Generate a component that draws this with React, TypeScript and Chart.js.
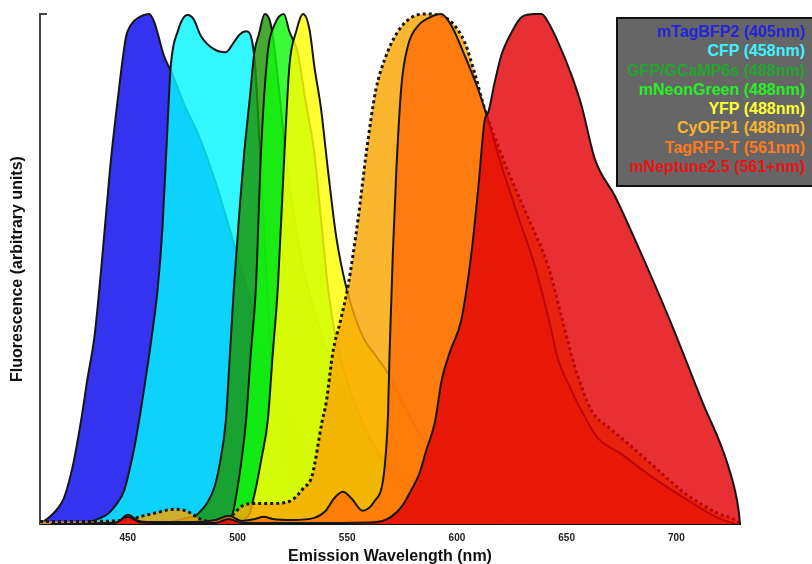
import React, { useEffect, useRef } from "react";
import { Chart, registerables } from "chart.js";

Chart.register(...registerables);

// ---------- data ----------
const seriesNames = [
  "mTagBFP2 (405nm)",
  "CFP (458nm)",
  "GFP/GCaMP6s (488nm)",
  "mNeonGreen (488nm)",
  "YFP (488nm)",
  "CyOFP1 (488nm)",
  "TagRFP-T (561nm)",
  "mNeptune2.5 (561+nm)",
];

const bfpWl = [410, 412, 415, 418, 421, 425, 428.5, 431.5, 435, 438, 442, 445.5, 449, 450, 453, 456.7, 459.7, 462, 463.5, 466.5, 470, 476, 482, 490, 497, 505, 512, 520, 530, 540, 550, 565, 580, 600];
const bfpVal = [0, 0.006, 0.016, 0.03, 0.052, 0.115, 0.197, 0.281, 0.374, 0.505, 0.7, 0.835, 0.951, 0.967, 0.987, 0.997, 1.0, 0.985, 0.964, 0.918, 0.885, 0.82, 0.765, 0.67, 0.57, 0.45, 0.35, 0.25, 0.16, 0.1, 0.06, 0.03, 0.015, 0];

const cfpWl = [430, 436, 441, 445, 448.3, 451, 453, 456, 458.5, 461, 463.6, 465.8, 468, 469.6, 472.7, 477.2, 480, 483.3, 489.3, 494.7, 498.4, 501, 504, 506.2, 508, 510, 513, 516, 520, 525, 530, 540, 550, 565];
const cfpVal = [0, 0.009, 0.02, 0.04, 0.065, 0.11, 0.15, 0.225, 0.295, 0.37, 0.46, 0.58, 0.77, 0.898, 0.965, 0.998, 0.99, 0.957, 0.931, 0.925, 0.945, 0.96, 0.966, 0.955, 0.9, 0.75, 0.5, 0.3, 0.16, 0.08, 0.04, 0.015, 0.005, 0];

const gfpWl = [465, 470, 475, 480, 482, 486, 489.4, 492, 494.7, 496.5, 498.4, 501, 503.1, 505.5, 507.7, 509.8, 512.4, 514.5, 516, 519, 522, 526, 530, 535, 540, 550, 560, 570, 585, 600, 620];
const gfpVal = [0, 0.004, 0.01, 0.015, 0.02, 0.04, 0.071, 0.12, 0.203, 0.33, 0.465, 0.62, 0.73, 0.83, 0.925, 0.961, 1.0, 0.99, 0.96, 0.85, 0.72, 0.6, 0.5, 0.42, 0.35, 0.25, 0.17, 0.11, 0.06, 0.03, 0];

const neonWl = [490, 494, 496, 497.8, 500, 502, 503.9, 506, 508.4, 510.7, 513.8, 517, 521.1, 523.7, 527.4, 531, 535, 538, 541.2, 545, 550, 560, 570, 580, 600, 620];
const neonVal = [0, 0.005, 0.01, 0.02, 0.071, 0.13, 0.203, 0.33, 0.465, 0.728, 0.925, 0.98, 1.0, 0.965, 0.925, 0.83, 0.728, 0.6, 0.465, 0.36, 0.28, 0.17, 0.1, 0.06, 0.02, 0];

const yfpWl = [500, 503, 505.4, 508.4, 511, 513.8, 516, 518.4, 521.4, 523.7, 526.7, 529.9, 532.8, 535, 538.1, 541.2, 545, 549.5, 554, 558, 563, 568.6, 576, 584, 595, 610, 630];
const yfpVal = [0, 0.008, 0.02, 0.071, 0.13, 0.203, 0.33, 0.465, 0.728, 0.9, 0.965, 1.0, 0.97, 0.898, 0.813, 0.695, 0.563, 0.465, 0.4, 0.36, 0.33, 0.295, 0.23, 0.17, 0.11, 0.05, 0];

const cyofpWl = [410, 430, 450, 457, 463, 471, 477, 482, 487, 492, 497, 502, 506, 515, 524, 530, 534, 538.5, 540.5, 543.4, 547, 550.3, 554.9, 558.7, 563, 567, 573, 580, 586.5, 592, 597.5, 603.6, 608, 612.7, 618.8, 623.4, 632.5, 641.6, 647.7, 653.8, 661.4, 669, 678.2, 690.3, 704, 719.3, 726.8, 729];
const cyofpVal = [0.005, 0.005, 0.008, 0.016, 0.022, 0.029, 0.025, 0.012, 0.005, 0.005, 0.015, 0.035, 0.04, 0.04, 0.045, 0.07, 0.095, 0.2, 0.24, 0.335, 0.4, 0.465, 0.596, 0.728, 0.85, 0.91, 0.965, 0.995, 1.0, 0.997, 0.984, 0.944, 0.885, 0.813, 0.741, 0.69, 0.6, 0.505, 0.406, 0.308, 0.222, 0.19, 0.157, 0.111, 0.06, 0.02, 0.008, 0];

const tagrfpWl = [420, 445, 450, 455, 460, 480, 490, 496, 502, 508, 512, 516, 525, 535, 540, 544, 548, 552, 557, 562.5, 566.3, 567.8, 568.6, 569.3, 570.8, 572.4, 574.7, 577.7, 582.3, 587, 592.9, 597.5, 603.6, 609.7, 612.7, 620.3, 627.9, 635.6, 641.6, 646.2, 650.7, 657, 664, 675, 689, 704, 719, 727];
const tagrfpVal = [0, 0.003, 0.018, 0.006, 0.004, 0.004, 0.008, 0.016, 0.006, 0.01, 0.014, 0.01, 0.008, 0.012, 0.025, 0.05, 0.063, 0.05, 0.026, 0.045, 0.085, 0.15, 0.216, 0.335, 0.531, 0.695, 0.859, 0.938, 0.977, 0.992, 1.0, 0.977, 0.918, 0.852, 0.813, 0.703, 0.603, 0.505, 0.406, 0.321, 0.275, 0.22, 0.17, 0.137, 0.092, 0.05, 0.012, 0];

const neptuneWl = [415, 444, 450, 456, 470, 490, 496, 502, 530, 560, 566, 570, 575, 579, 583, 586, 590, 593, 597, 602, 606.6, 609.8, 612.7, 614.2, 617.2, 620.3, 624.9, 629.5, 635.6, 638.6, 641.6, 646.2, 652.3, 656.8, 662.9, 672, 681.2, 696.4, 711.6, 723.8, 728.4, 729];
const neptuneVal = [0, 0.002, 0.014, 0.003, 0.002, 0.002, 0.01, 0.002, 0.002, 0.003, 0.006, 0.014, 0.035, 0.065, 0.1, 0.144, 0.2, 0.281, 0.34, 0.4, 0.531, 0.662, 0.793, 0.806, 0.866, 0.92, 0.964, 0.994, 1.0, 1.0, 0.984, 0.944, 0.879, 0.82, 0.715, 0.643, 0.557, 0.406, 0.242, 0.111, 0.026, 0];

const xTicks = [450, 500, 550, 600, 650, 700];
const xMin = 410;
const xMax = 729;
const yMax = 1.0;

const xTitle = "Emission Wavelength (nm)";
const yTitle = "Fluorescence (arbitrary units)";

// ---------- styles ----------
const fillColors = [
  "rgba(7,7,237,0.82)",
  "rgba(5,245,255,0.82)",
  "rgba(28,151,5,0.82)",
  "rgba(17,250,13,0.82)",
  "rgba(255,255,5,0.82)",
  "rgba(249,166,0,0.82)",
  "rgba(255,112,8,0.82)",
  "rgba(227,3,7,0.82)",
];
const legendColors = [
  "#2424d8",
  "#3ff2ff",
  "#22a52c",
  "#25ee25",
  "#ffff30",
  "#f9b430",
  "#ff7a20",
  "#e81414",
];

const FONT = "'Liberation Sans', Arial, sans-serif";

export default function App() {
  const canvasRef = useRef<HTMLCanvasElement | null>(null);

  useEffect(() => {
    const canvas = canvasRef.current;
    if (!canvas) return;
    const series: [number[], number[]][] = [
      [bfpWl, bfpVal],
      [cfpWl, cfpVal],
      [gfpWl, gfpVal],
      [neonWl, neonVal],
      [yfpWl, yfpVal],
      [cyofpWl, cyofpVal],
      [tagrfpWl, tagrfpVal],
      [neptuneWl, neptuneVal],
    ];

    const topTick = {
      id: "topTick",
      afterDraw(chart: any) {
        const ctx = chart.ctx;
        const left = chart.chartArea.left;
        const top = chart.scales.y.getPixelForValue(yMax);
        ctx.save();
        ctx.strokeStyle = "#444";
        ctx.lineWidth = 2;
        ctx.beginPath();
        ctx.moveTo(left - 1, top);
        ctx.lineTo(left + 7, top);
        ctx.stroke();
        ctx.restore();
      },
    };

    const chart = new Chart(canvas, {
      type: "line",
      data: {
        datasets: series.map(([wl, vals], i) => ({
          label: seriesNames[i],
          data: wl.map((x, j) => ({ x, y: vals[j] })),
          backgroundColor: fillColors[i],
          borderColor: "#161616",
          borderWidth: i === 5 ? 3 : 2,
          borderDash: i === 5 ? [3, 3] : [],
          borderCapStyle: "butt",
          fill: "origin",
          pointRadius: 0,
          pointHoverRadius: 0,
          cubicInterpolationMode: "monotone",
          order: series.length - i,
          clip: false,
        })) as any,
      },
      options: {
        responsive: false,
        animation: false,
        devicePixelRatio: 1,
        events: [],
        layout: { padding: { top: 14, left: 0, right: 72, bottom: 0 } },
        plugins: {
          legend: { display: false },
          tooltip: { enabled: false },
        },
        scales: {
          x: {
            type: "linear",
            min: xMin,
            max: xMax,
            z: 1,
            afterBuildTicks: (axis: any) => {
              axis.ticks = xTicks.map((value) => ({ value }));
            },
            afterFit: (scale: any) => {
              scale.height = 40;
            },
            grid: { display: false, drawTicks: false },
            border: { display: true, color: "#111", width: 2 },
            ticks: {
              padding: 8,
              color: "#222",
              maxRotation: 0,
              autoSkip: false,
              font: { family: FONT, size: 10, weight: "bold" },
            },
            title: {
              display: true,
              text: xTitle,
              color: "#111",
              padding: { top: 0, bottom: -1 },
              font: { family: FONT, size: 16, weight: "bold", lineHeight: 1 },
            },
          },
          y: {
            type: "linear",
            min: 0,
            max: yMax,
            z: 1,
            afterFit: (scale: any) => {
              scale.width = 40;
            },
            grid: { display: false, drawTicks: false },
            border: { display: true, color: "#444", width: 2 },
            ticks: { display: false },
            title: {
              display: true,
              text: yTitle,
              color: "#111",
              padding: { top: 10, bottom: 0 },
              font: { family: FONT, size: 16, weight: "bold", lineHeight: 1 },
            },
          },
        },
      } as any,
      plugins: [topTick],
    });
    return () => chart.destroy();
  }, []);

  return (
    <div
      style={{
        position: "fixed",
        left: 0,
        top: 0,
        width: 812,
        height: 564,
        overflow: "hidden",
        background: "#fff",
      }}
    >
      <canvas ref={canvasRef} width={812} height={564} style={{ display: "block", width: 812, height: 564 }} />
      <div
        style={{
          position: "absolute",
          left: 616,
          top: 17,
          width: 187,
          padding: "3px 15px 9px 0",
          background: "#666666",
          border: "2px solid #111",
          fontFamily: FONT,
          fontWeight: "bold",
          fontSize: 16,
          lineHeight: "19.3px",
          textAlign: "right",
          whiteSpace: "nowrap",
        }}
      >
        {seriesNames.map((name, i) => (
          <div key={name} style={{ color: legendColors[i] }}>
            {name}
          </div>
        ))}
      </div>
    </div>
  );
}
